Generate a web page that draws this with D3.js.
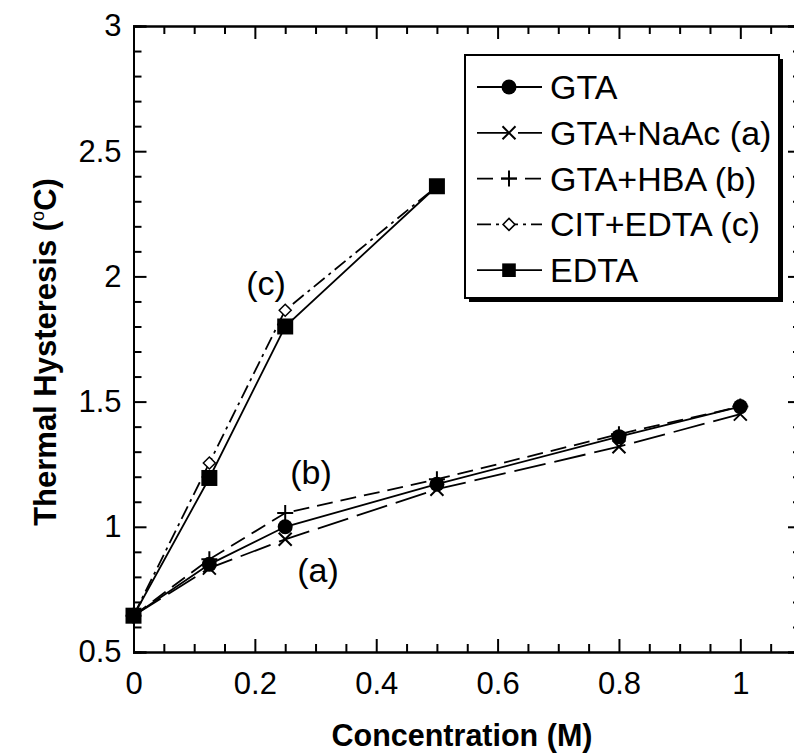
<!DOCTYPE html>
<html><head><meta charset="utf-8">
<script src="https://cdn.jsdelivr.net/npm/d3@7"></script>
<style>body{margin:0;background:#fff}svg{display:block}</style>
</head><body><div id="chart"></div>
<script>
const concentrations = [0, 0.125, 0.25, 0.5, 0.8, 1.0];
const edtaConc = [0, 0.125, 0.25, 0.5];
const gta = [0.645, 0.85, 1.0, 1.17, 1.36, 1.48];
const gtaNaAc = [0.645, 0.835, 0.95, 1.15, 1.32, 1.45];
const gtaHBA = [0.645, 0.87, 1.055, 1.19, 1.37, 1.48];
const citEdta = [0.645, 1.255, 1.865, 2.36];
const edta = [0.645, 1.195, 1.8, 2.36];
const xTicks = [0, 0.2, 0.4, 0.6, 0.8, 1];
const yTicks = [0.5, 1, 1.5, 2, 2.5, 3];
const seriesNames = ["GTA", "GTA+NaAc (a)", "GTA+HBA (b)", "CIT+EDTA (c)", "EDTA"];

const W = 794, H = 754;
const svg = d3.select("#chart").append("svg").attr("width", W).attr("height", H);
const FONT = "'Liberation Sans', Arial, sans-serif";
const x = d3.scaleLinear().domain([0, 1.1]).range([133.5, 801]);
const y = d3.scaleLinear().domain([0.5, 3]).range([652, 26]);

const series = [
  {name: seriesNames[0], xs: concentrations, ys: gta, dash: null, marker: "circle"},
  {name: seriesNames[1], xs: concentrations, ys: gtaNaAc, dash: "32,9", marker: "x"},
  {name: seriesNames[2], xs: concentrations, ys: gtaHBA, dash: "16,8", marker: "plus"},
  {name: seriesNames[3], xs: edtaConc, ys: citEdta, dash: "14,5,3,5", marker: "diamond"},
  {name: seriesNames[4], xs: edtaConc, ys: edta, dash: null, marker: "square"}
];

const g = svg.append("g");
function drawAxis(axis, transform) {
  const a = g.append("g").attr("transform", transform).call(axis);
  a.select(".domain").attr("stroke", "#000").attr("stroke-width", 2);
  a.selectAll(".tick line").attr("stroke", "#000").attr("stroke-width", 2);
  a.selectAll("text").attr("font-family", FONT).attr("font-size", 31).attr("fill", "#000");
  return a;
}
const xMinor = d3.range(0, 1.1001, 0.05).filter(v => Math.abs(v*5 - Math.round(v*5)) > 1e-6);
const yMinor = d3.range(0.5, 3.0001, 0.1).filter(v => Math.abs(v*2 - Math.round(v*2)) > 1e-6);

drawAxis(d3.axisBottom(x).tickValues(xTicks).tickSize(-13).tickPadding(20).tickFormat(d3.format("")), `translate(0,${y(0.5)})`);
drawAxis(d3.axisBottom(x).tickValues(xMinor).tickSize(-8).tickFormat(""), `translate(0,${y(0.5)})`);
drawAxis(d3.axisTop(x).tickValues(xTicks).tickSize(-13).tickFormat(""), `translate(0,${y(3)})`);
drawAxis(d3.axisTop(x).tickValues(xMinor).tickSize(-8).tickFormat(""), `translate(0,${y(3)})`);
drawAxis(d3.axisLeft(y).tickValues(yTicks).tickSize(-13).tickPadding(12).tickFormat(d3.format("")), `translate(${x(0)},0)`);
drawAxis(d3.axisLeft(y).tickValues(yMinor).tickSize(-8).tickFormat(""), `translate(${x(0)},0)`);
drawAxis(d3.axisRight(y).tickValues(yTicks).tickSize(-13).tickFormat(""), `translate(${x(1.1)},0)`);
drawAxis(d3.axisRight(y).tickValues(yMinor).tickSize(-8).tickFormat(""), `translate(${x(1.1)},0)`);

svg.append("text").attr("x", 462).attr("y", 746).attr("text-anchor", "middle")
  .attr("font-family", FONT).attr("font-weight", "bold").attr("font-size", 30.5).text("Concentration (M)");
const yt = svg.append("text").attr("transform", "translate(56,352) rotate(-90)").attr("text-anchor", "middle")
  .attr("font-family", FONT).attr("font-weight", "bold").attr("font-size", 31);
yt.append("tspan").text("Thermal Hysteresis (");
yt.append("tspan").attr("font-size", 18).attr("dy", -12).attr("font-weight", "normal").text("o");
yt.append("tspan").attr("dy", 12).text("C)");

function drawMarker(sel, type, cx, cy, scale) {
  const s = scale || 1;
  if (type === "circle") {
    sel.append("circle").attr("cx", cx).attr("cy", cy).attr("r", 7.5*s).attr("fill", "#000");
  } else if (type === "square") {
    sel.append("rect").attr("x", cx-8*s).attr("y", cy-8*s).attr("width", 16*s).attr("height", 16*s).attr("fill", "#000");
  } else if (type === "x") {
    const r = 6.5*s;
    sel.append("path").attr("d", `M${cx-r},${cy-r}L${cx+r},${cy+r}M${cx-r},${cy+r}L${cx+r},${cy-r}`)
      .attr("stroke", "#000").attr("stroke-width", 2).attr("fill", "none");
  } else if (type === "plus") {
    const r = 8*s;
    sel.append("path").attr("d", `M${cx-r},${cy}L${cx+r},${cy}M${cx},${cy-r}L${cx},${cy+r}`)
      .attr("stroke", "#000").attr("stroke-width", 2).attr("fill", "none");
  } else if (type === "diamond") {
    const r = 6*s;
    sel.append("path").attr("d", `M${cx},${cy-r}L${cx+r},${cy}L${cx},${cy+r}L${cx-r},${cy}Z`)
      .attr("stroke", "#000").attr("stroke-width", 1.5).attr("fill", "#fff");
  }
}

const line = d3.line().x(d => x(d[0])).y(d => y(d[1]));
const plot = svg.append("g");
series.forEach(s => {
  const pts = s.xs.map((v, i) => [v, s.ys[i]]);
  plot.append("path").attr("d", line(pts)).attr("fill", "none").attr("stroke", "#000")
    .attr("stroke-width", 1.8).attr("stroke-dasharray", s.dash);
});
["diamond", "plus", "x", "circle", "square"].forEach(m => {
  series.filter(s => s.marker === m).forEach(s => {
    s.xs.forEach((v, i) => drawMarker(plot, s.marker, x(v), y(s.ys[i])));
  });
});

[["(c)", 266, 295], ["(b)", 311, 484], ["(a)", 318, 582]].forEach(a => {
  svg.append("text").attr("x", a[1]).attr("y", a[2]).attr("text-anchor", "middle")
    .attr("font-family", FONT).attr("font-size", 34).text(a[0]);
});

const lg = svg.append("g");
const bx = 465, by = 55, bw = 314, bh = 243;
lg.append("rect").attr("x", bx+4).attr("y", by+4).attr("width", bw).attr("height", bh).attr("fill", "#000");
lg.append("rect").attr("x", bx).attr("y", by).attr("width", bw).attr("height", bh)
  .attr("fill", "#fff").attr("stroke", "#000").attr("stroke-width", 2);
series.forEach((s, i) => {
  const cy = 87 + i*45.8;
  lg.append("line").attr("x1", 477).attr("x2", 542).attr("y1", cy).attr("y2", cy)
    .attr("stroke", "#000").attr("stroke-width", 1.8).attr("stroke-dasharray", s.dash);
  drawMarker(lg, s.marker, 509, cy, s.marker === "square" ? 0.85 : 1);
  lg.append("text").attr("x", 550).attr("y", cy + 12).attr("font-family", FONT)
    .attr("font-size", 34).text(s.name);
});
</script></body></html>
